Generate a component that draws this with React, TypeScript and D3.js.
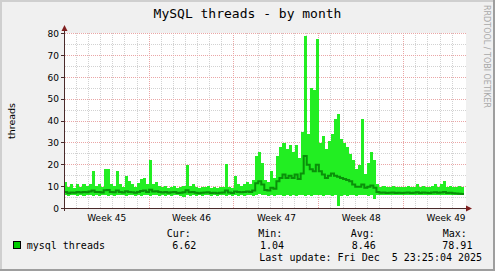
import React from 'react';
import * as d3 from 'd3';

const W = 495;
const H = 271;
const title = 'MySQL threads - by month';
const yLabel = 'threads';
const watermark = 'RRDTOOL / TOBI OETIKER';
const yTicks = [0, 10, 20, 30, 40, 50, 60, 70, 80];
const yMinor = [5, 15, 25, 35, 45, 55, 65, 75];
const weekLabels = ['Week 45', 'Week 46', 'Week 47', 'Week 48', 'Week 49'];
const weekStarts = [
  Date.UTC(2025, 10, 3),
  Date.UTC(2025, 10, 10),
  Date.UTC(2025, 10, 17),
  Date.UTC(2025, 10, 24),
  Date.UTC(2025, 11, 1),
];
const rangeStart = Date.UTC(2025, 10, 2, 23, 25, 4);
const rangeEnd = Date.UTC(2025, 11, 5, 23, 25, 4);
const binStart = Date.UTC(2025, 10, 3);
const binHours = 6;

// 6-hour bins from Nov 3 00:00
const maxThreads = [
  // week 45
  12, 10, 11, 9.5, 11, 10, 11, 10.5, 11, 17, 10.5, 11, 10, 18, 18, 11, 10.5, 17, 11, 10, 15, 12.5, 11, 10, 11.5, 13.5, 14, 11,
  // week 46
  22, 11, 12, 10.5, 10, 10.5, 9.5, 10, 10.5, 9.5, 10, 10.5, 20, 10.5, 11, 10, 9.5, 10, 10, 10.5, 9.5, 10, 9.5, 10, 10, 20.5, 10, 9.5,
  // week 47
  15, 11, 10.5, 11, 12, 11, 13, 24, 26, 21, 13, 12, 17, 14, 24, 28, 30, 27, 29, 26, 29, 23, 35, 78.91, 34, 55, 54, 77.5,
  // week 48
  30, 33, 27, 31, 34, 41, 43, 32, 30, 28, 25, 22, 18, 20, 41, 16, 21, 26, 22, 11, 10, 10.5, 10, 10, 10.5, 10, 10, 10,
  // week 49
  10, 10.5, 10, 10, 11, 10, 10.5, 10, 10, 10.5, 11, 10, 11, 12.5, 10, 10.5, 10, 10, 10.5, 10,
];
const minThreads = [
  6, 5.5, 6, 6.2, 5.8, 6, 5.5, 6, 6.3, 5.8, 6, 5.6, 6, 6.2, 5.8, 6, 5.5, 6, 6.2, 6, 5.7, 6, 6.2, 5.8, 6, 5.5, 6, 6.1,
  5.8, 6, 6.2, 5.6, 6, 5.8, 6.2, 5.5, 6, 6.1, 5.8, 5.4, 6, 5.8, 6.2, 5.9, 6, 5.6, 6, 6.2, 5.8, 6, 5.7, 6, 6.1, 5.8, 6, 5.6,
  6, 5.8, 6.1, 5.7, 6, 6.2, 5.9, 6.3, 6.5, 6.2, 6, 5.8, 6.2, 5.6, 6.4, 6, 5.8, 6.3, 5.9, 6.1, 5.7, 6.2, 6, 5.6, 6.3, 5.9, 6.2, 6,
  6.1, 5.8, 6.3, 6, 5.9, 6.2, 1.04, 5.7, 6, 5.8, 6.1, 6.3, 5.9, 6.2, 6, 6.1, 5.8, 6.2, 4.5, 6.2, 6, 6.3, 6.1, 6.4, 6.2, 6.3, 6, 6.2,
  6.3, 6.1, 6.2, 6.4, 6, 6.3, 6.1, 6.2, 6.4, 6, 6.2, 6.3, 6.1, 6, 6.2, 6.3, 6.1, 6, 6.2, 6.3,
];
const avgThreads = [
  7.5, 7, 7.3, 7.2, 7.6, 7.3, 7.5, 7.4, 7.8, 8.2, 7.6, 7.5, 7.3, 8.4, 8.5, 7.6, 7.4, 8.2, 7.6, 7.3, 7.9, 7.6, 7.4, 7.2, 7.6, 8, 8.2, 7.6,
  8.6, 7.8, 7.9, 7.5, 7.3, 7.5, 7.2, 7.4, 7.5, 7.1, 7.2, 7.4, 8.3, 7.4, 7.5, 7.2, 7, 7.2, 7.3, 7.4, 7.1, 7.2, 7.0, 7.2, 7.3, 8.2, 7.3, 7.1,
  7.8, 7.5, 7.4, 7.6, 7.8, 7.6, 8.2, 11.5, 12.5, 11, 8.5, 8.2, 9.5, 9, 12.5, 14, 15.5, 14, 15, 14, 15.5, 13.5, 16, 24, 20, 18, 17, 20,
  17, 15.5, 14, 15, 16, 15, 14.5, 14, 13.5, 13, 12.5, 11, 10, 10, 11, 9.5, 10, 10.5, 9.5, 7.5, 7.2, 7.3, 7.1, 7.2, 7.3, 7.1, 7.2, 7.1,
  7.2, 7.3, 7.1, 7.2, 7.4, 7.1, 7.3, 7.2, 7.1, 7.3, 7.4, 7.2, 7.3, 7.6, 7.1, 7.2, 7, 6.9, 6.8, 6.62,
];

const seriesName = 'mysql threads';
const legendHeaders = ['Cur:', 'Min:', 'Avg:', 'Max:'];
const legendValues = ['6.62', '1.04', '8.46', '78.91'];
const lastUpdate = 'Last update: Fri Dec  5 23:25:04 2025';

const MONO = '"DejaVu Sans Mono", monospace';
const SANS = '"DejaVu Sans", sans-serif';

export default function App() {
  const x = d3.scaleUtc().domain([rangeStart, rangeEnd]).range([64, 464]);
  const y = d3.scaleLinear().domain([0, 80]).range([208.5, 33.5]);
  const binTime = (i: number) => binStart + i * binHours * 3600 * 1000;
  const idx = d3.range(maxThreads.length + 1);
  const cl = (i: number) => Math.min(i, maxThreads.length - 1);

  const area = d3
    .area<number>()
    .x((i) => x(binTime(i)))
    .y0((i) => y(minThreads[cl(i)]))
    .y1((i) => y(maxThreads[cl(i)]))
    .curve(d3.curveStepAfter);
  const line = d3
    .line<number>()
    .x((i) => x(binTime(i)))
    .y((i) => y(avgThreads[cl(i)]))
    .curve(d3.curveStepAfter);

  const px = (v: number) => Math.floor(v) + 0.5;
  const days = d3.utcDay.range(new Date(rangeStart), new Date(rangeEnd));
  const mondays = new Set(weekStarts);
  const minorDays = days.filter((d) => !mondays.has(+d));

  const gridColor = '#d2d2d2';
  const mgridColor = '#eaa6a6';
  const axisColor = '#4a2a2a';
  const arrowColor = '#7f1f1f';

  const legendX = [166.7, 258.3, 350.7, 442.7];
  const valueX = [172.3, 260, 351.7, 442.3];

  return (
    <svg
      width={W}
      height={H}
      viewBox={`0 0 ${W} ${H}`}
      style={{ position: 'absolute', left: 0, top: 0, display: 'block' }}
    >
      <defs>
        <clipPath id="plotclip">
          <rect x={64} y={20} width={x(rangeEnd) - 64} height={189} />
        </clipPath>
      </defs>
      <rect x={0} y={0} width={W} height={H} fill="#f0f0f0" />
      {/* 3D border */}
      <rect x={0} y={0} width={W} height={2} fill="#cfcfcf" />
      <rect x={0} y={0} width={2} height={H} fill="#cfcfcf" />
      <rect x={0} y={H - 2} width={W} height={2} fill="#9e9e9e" />
      <rect x={W - 2} y={0} width={2} height={H} fill="#9e9e9e" />

      {/* canvas */}
      <rect x={64} y={33} width={402} height={176} fill="#ffffff" />

      {/* minor grid */}
      <g stroke={gridColor} strokeWidth={1} strokeDasharray="1,1" shapeRendering="crispEdges">
        {yMinor.map((v) => (
          <line key={'hm' + v} x1={65} x2={466} y1={px(y(v))} y2={px(y(v))} />
        ))}
        {minorDays.map((d) => (
          <line key={'vm' + +d} x1={px(x(d))} x2={px(x(d))} y1={33} y2={208} />
        ))}
      </g>
      {/* major grid */}
      <g stroke={mgridColor} strokeWidth={1} strokeDasharray="1,1" shapeRendering="crispEdges">
        {yTicks
          .filter((v) => v > 0)
          .map((v) => (
            <line key={'hM' + v} x1={65} x2={466} y1={px(y(v))} y2={px(y(v))} />
          ))}
        {weekStarts
          .filter((t) => t > rangeStart)
          .map((t) => (
            <line key={'vM' + t} x1={px(x(t))} x2={px(x(t))} y1={33} y2={208} />
          ))}
      </g>

      {/* data */}
      <g clipPath="url(#plotclip)">
        <path d={area(idx) || ''} fill="#22ee22" shapeRendering="crispEdges" />
        <path d={line(idx) || ''} fill="none" stroke="#0a8f0a" strokeWidth={2} />
      </g>

      {/* axes */}
      <g stroke={axisColor} strokeWidth={1} shapeRendering="crispEdges">
        <line x1={62} x2={467} y1={208.5} y2={208.5} />
        <line x1={64.5} x2={64.5} y1={211} y2={29} />
        {yTicks.map((v) => (
          <line key={'yt' + v} x1={61} x2={64} y1={px(y(v))} y2={px(y(v))} />
        ))}
      </g>
      <path d="M64.5,25 L61.5,31 L67.5,31 Z" fill={arrowColor} />
      <path d="M472,208.5 L466,205.5 L466,211.5 Z" fill={arrowColor} />

      {/* title */}
      <text x={247.5} y={17.5} textAnchor="middle" fontFamily={MONO} fontSize={13} fill="#000">
        {title}
      </text>

      {/* y labels */}
      {yTicks.map((v) => (
        <text
          key={'yl' + v}
          x={59}
          y={y(v) + 3.3}
          textAnchor="end"
          fontFamily={SANS}
          fontSize={9}
          fill="#000"
        >
          {v}
        </text>
      ))}
      <text
        transform="translate(14.5,121) rotate(-90)"
        textAnchor="middle"
        fontFamily={SANS}
        fontSize={9.5}
        fill="#000"
      >
        {yLabel}
      </text>

      {/* x labels */}
      {weekLabels.map((lab, i) => (
        <text
          key={lab}
          x={x(weekStarts[i] + 3.5 * 86400000)}
          y={220.5}
          textAnchor="middle"
          fontFamily={SANS}
          fontSize={9}
          fill="#000"
        >
          {lab}
        </text>
      ))}

      {/* watermark */}
      <text
        transform="translate(484,5) rotate(90)"
        fontFamily={SANS}
        fontSize={8}
        fill="#a8a8a8"
      >
        {watermark}
      </text>

      {/* legend */}
      <rect x={13.5} y={241.5} width={7} height={7} fill="#00cc00" stroke="#000" strokeWidth={1} shapeRendering="crispEdges" />
      <text x={26.7} y={249} fontFamily={MONO} fontSize={10} fill="#000" style={{ whiteSpace: 'pre' }}>
        {seriesName}
      </text>
      {legendHeaders.map((h, i) => (
        <text key={h} x={legendX[i]} y={237} fontFamily={MONO} fontSize={10} fill="#000">
          {h}
        </text>
      ))}
      {legendValues.map((v, i) => (
        <text key={'lv' + i} x={valueX[i]} y={249} fontFamily={MONO} fontSize={10} fill="#000">
          {v}
        </text>
      ))}
      <text x={259.3} y={260.5} fontFamily={MONO} fontSize={10} fill="#000" style={{ whiteSpace: 'pre' }}>
        {lastUpdate}
      </text>
    </svg>
  );
}
